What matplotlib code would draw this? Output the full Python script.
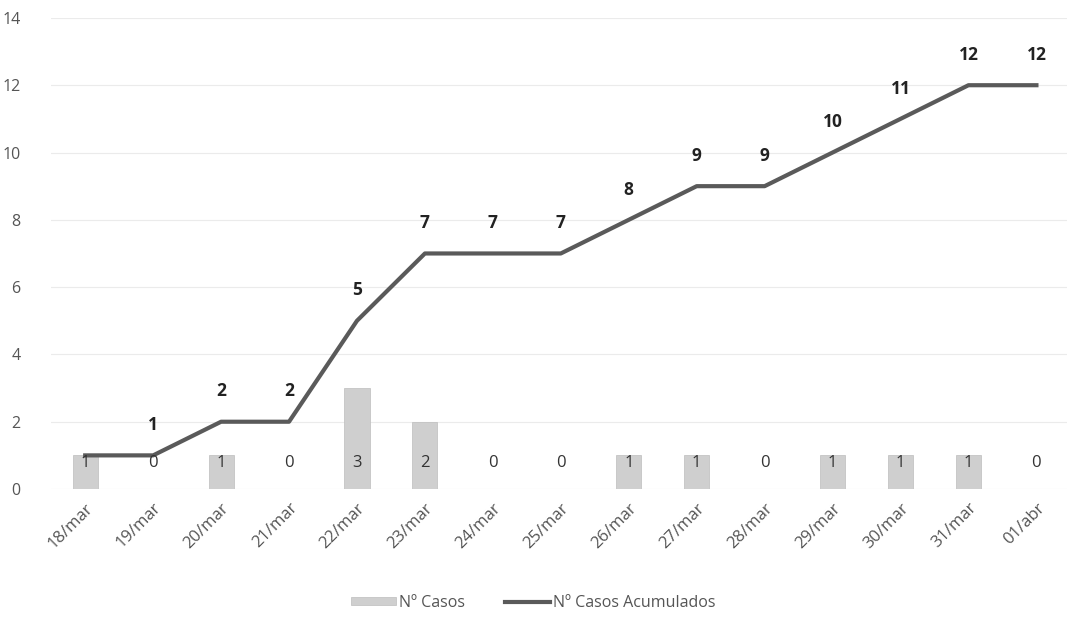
import matplotlib
matplotlib.use("Agg")
import matplotlib.pyplot as plt
import numpy as np

dates = ["18/mar", "19/mar", "20/mar", "21/mar", "22/mar", "23/mar", "24/mar", "25/mar",
         "26/mar", "27/mar", "28/mar", "29/mar", "30/mar", "31/mar", "01/abr"]
casos = [1, 0, 1, 0, 3, 2, 0, 0, 1, 1, 0, 1, 1, 1, 0]
acumulados = [1, 1, 2, 2, 5, 7, 7, 7, 8, 9, 9, 10, 11, 12, 12]
yticks = [0, 2, 4, 6, 8, 10, 12, 14]

plt.rcParams['font.family'] = ['Open Sans', 'DejaVu Sans']

fig = plt.figure(figsize=(10.67, 6.24), dpi=100)
ax = fig.add_axes([0.048, 0.2163, 0.952, 0.755])
x = np.arange(len(dates))

bars = ax.bar(x, casos, width=0.37, color="#cfcfcf", edgecolor="#bdbdbd", linewidth=0.5,
              label="Nº Casos", zorder=2)
line, = ax.plot(x, acumulados, color="#5a5a5a", linewidth=3, label="Nº Casos Acumulados", zorder=3)

for xi, v in zip(x, casos):
    ax.text(xi, 0.78, str(v), ha="center", va="center", fontsize=12, color="#333333", zorder=4)
for xi, v in zip(x[1:], acumulados[1:]):
    ax.text(xi, v + 0.9, str(v), ha="center", va="center", fontsize=12.5, color="#222222",
            fontweight="bold", zorder=4)

ax.set_xlim(-0.5, 14.45)
ax.set_ylim(0, 14)
ax.set_yticks(yticks)
ax.set_yticklabels([str(t) for t in yticks], fontsize=11.5, color="#555555")
ax.set_xticks(x)
ax.set_xticklabels(dates, rotation=45, ha="right", rotation_mode="anchor", fontsize=12, color="#555555")
ax.tick_params(length=0, pad=8)
ax.tick_params(axis="y", pad=22)
ax.yaxis.grid(True, color="#ebebeb", linewidth=0.8, zorder=0)
for s in ax.spines.values():
    s.set_visible(False)

leg = fig.legend([bars, line], ["Nº Casos", "Nº Casos Acumulados"], loc="center",
                 bbox_to_anchor=(0.5, 0.034), ncol=2, frameon=False,
                 fontsize=11.5, handlelength=2.8, handleheight=0.4, columnspacing=2.5, handletextpad=0.2)
for t in leg.get_texts():
    t.set_color("#555555")

fig.savefig("out.png", dpi=100)
